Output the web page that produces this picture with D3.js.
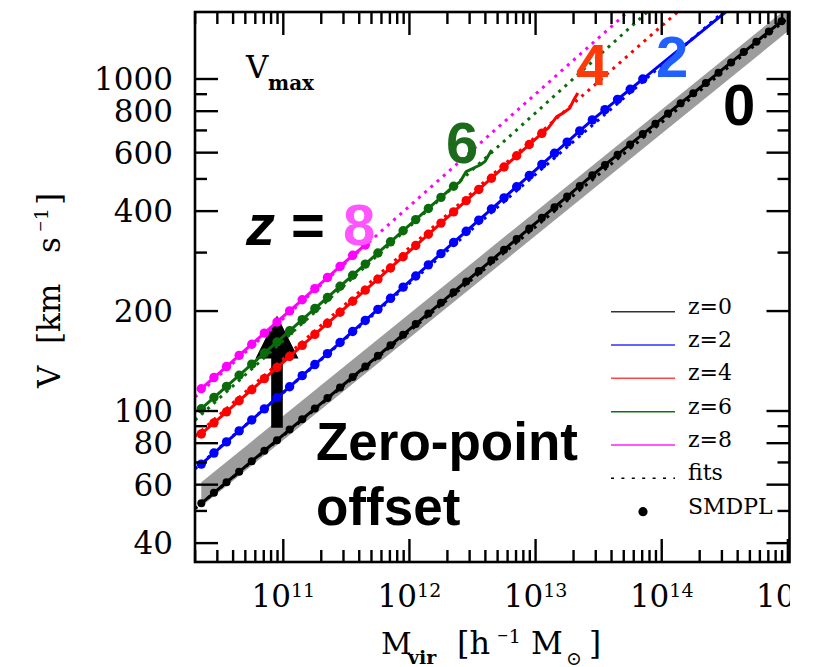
<!DOCTYPE html>
<html>
<head>
<meta charset="utf-8">
<script src="https://cdn.jsdelivr.net/npm/d3@7"></script>
<style>
  html, body { margin: 0; padding: 0; background: #fff; }
  svg { display: block; }
</style>
</head>
<body>
<div id="chart"></div>
<script>
// ---- data: Vmax vs halo mass in SMDPL, median relations at several redshifts ----
const logMassBins = [10.35,10.45,10.55,10.65,10.75,10.85,10.95,11.05,11.15,11.25,11.35,11.45,
  11.55,11.65,11.75,11.85,11.95,12.05,12.15,12.25,12.35,12.45,12.55,12.65,12.75,12.85,12.95,
  13.05,13.15,13.25,13.35,13.45,13.55,13.65,13.75,13.85,13.95,14.05,14.15,14.25,14.35,14.45,
  14.55,14.65,14.75,14.85,14.95];

const vmaxZ0 = [52.7,56.7,61.0,65.6,70.6,75.9,81.7,87.9,94.5,101.7,109.4,117.7,126.6,136.2,146.6,
  157.8,169.8,182.8,196.8,211.8,228.0,245.5,264.2,284.4,306.2,329.6,354.8,381.9,411.1,442.6,476.4,
  512.9,550.8,591.6,635.3,682.3,732.8,787.0,845.3,906.0,972.8,1044.7,1122.0,1205.0,1294.2,1390.0,1492.8];
const vmaxZ2 = [69.2,74.7,80.7,87.1,94.0,101.5,109.6,118.3,127.8,138.0,148.9,160.8,173.6,187.4,202.4,
  218.5,236.1,255.1,275.6,297.8,321.8,347.7,375.6,405.9,438.5,473.8,511.9,553.1,597.6,645.6,697.6,
  753.4,808.6,867.8,931.4,999.5];
const vmaxZ4 = [85.3,92.1,99.4,107.4,115.9,125.2,135.2,145.9,157.6,170.1,183.7,198.3,214.1,231.2,249.5,
  269.7,291.5,315.1,340.6,368.1,397.9,430.1,464.9,502.5,543.3,587.2,634.7,686.1];
const vmaxZ6 = [101.6,109.8,118.6,128.1,138.4,149.5,161.4,174.4,188.4,203.5,219.8,237.5,256.4,277.0,
  299.2,323.3,349.1,377.2,407.4,440.1,475.3];
const vmaxZ8 = [116.7,126.1,136.1,147.1,158.9,171.6,185.4,200.2,216.3,233.6,252.4,272.6,294.4,316.2];

// high-mass ends of the median curves (no SMDPL points there)
const tailZ2LogM = [13.95,14.05,14.15,14.25,14.35,14.45,14.55];
const tailZ2V    = [1072.7,1151.3,1235.6,1326.1,1423.2,1527.6,1639.5];
const tailZ4LogM = [13.10,13.166,13.22,13.27,13.30,13.335];
const tailZ4V    = [711.2,769.1,790.7,816.6,861.0,907.8];
const tailZ6LogM = [12.40,12.45,12.56,12.60,12.651];
const tailZ6V    = [489.8,526.0,550.8,564.9,611.0];

// power-law fits (end points)
const fitLogM = [10.3, 15.0];
const fitZ0 = [50.8, 1528];
const fitZ2 = [67.0, 2344];
const fitZ4 = [83.9, 3119];
const fitZ6 = [93.8, 3837];
const fitZ8 = [110.2, 4276];

// z=0 scatter band
const bandLogM = [10.35, 15.05];
const bandLow  = [51.6, 1442];
const bandHigh = [61.0, 1702];

// zero-point offset arrow
const arrowLogM = 10.95;
const arrowV = [89, 194];

const redshifts = ["0","2","4","6","8"];
const lineColors = ["#000000","#0000ff","#ff0000","#0b6b0b","#ff00ff"];
const legendColors = ["#333333","#3030ff","#ff4545","#107010","#ff20ff"];
const labelColors = ["#000000","#2060ff","#ff3a0a","#1c6b1c","#ff55ff"];
const legendLabels = ["z=0","z=2","z=4","z=6","z=8","fits","SMDPL"];

const yMajorTicks = [40,60,80,100,200,400,600,800,1000];
const yMinorTicks = [50,70,90,300,500,700,900];
const xMajorExp = [11,12,13,14,15];

// ---- layout ----
const W = 818, H = 667;
const L = 195, R = 789.5, T = 12, B = 562;

const x = d3.scaleLog().domain([Math.pow(10,10.3), Math.pow(10,15.013)]).range([L, R]);
const y = d3.scaleLog().domain([Math.pow(10,1.5452), Math.pow(10,3.2018)]).range([B, T]);

const svg = d3.select("#chart").append("svg")
  .attr("width", W).attr("height", H)
  .attr("viewBox", `0 0 ${W} ${H}`);

const defs = svg.append("defs");
defs.append("clipPath").attr("id","plotclip")
  .append("rect").attr("x", L).attr("y", T).attr("width", R-L).attr("height", B-T);
defs.append("clipPath").attr("id","labelclip")
  .append("rect").attr("x", 0).attr("y", 0).attr("width", 790).attr("height", H);

const serif = "'DejaVu Serif', 'Liberation Serif', serif";
const sans = "'Liberation Sans', Arial, Helvetica, sans-serif";

const plot = svg.append("g").attr("clip-path","url(#plotclip)");

// z=0 scatter band
const band = bandLogM.map((m,i) => ({m: Math.pow(10,m), lo: bandLow[i], hi: bandHigh[i]}));
plot.append("path")
  .datum(band)
  .attr("fill","#9c9c9c")
  .attr("d", d3.area().x(d => x(d.m)).y0(d => y(d.lo)).y1(d => y(d.hi)));

// zero-point arrow
{
  const ax = x(Math.pow(10, arrowLogM));
  const yb = y(arrowV[0]), yt = y(arrowV[1]);
  const headLen = 43, headHalf = 21.5, shaftHalf = 5.8;
  plot.append("path")
    .attr("fill","#000")
    .attr("d", `M${ax-shaftHalf},${yb} L${ax-shaftHalf},${yt+headLen} L${ax-headHalf},${yt+headLen}
                L${ax},${yt} L${ax+headHalf},${yt+headLen} L${ax+shaftHalf},${yt+headLen} L${ax+shaftHalf},${yb} Z`);
}

// redshift labels (drawn under the curves)
svg.append("text").attr("x",246).attr("y",245)
  .attr("font-family",sans).attr("font-weight","bold").attr("font-style","italic")
  .attr("font-size",58).attr("fill","#000").text("z");
svg.append("text").attr("x",291).attr("y",245)
  .attr("font-family",sans).attr("font-weight","bold")
  .attr("font-size",58).attr("fill","#000").text("=");
const zLabelPos = [[723,125],[656,77],[576,85],[446,163],[343,245]];
redshifts.forEach((z,i) => {
  svg.append("text").attr("x", zLabelPos[i][0]).attr("y", zLabelPos[i][1])
    .attr("font-family",sans).attr("font-weight","bold")
    .attr("font-size",58).attr("fill",labelColors[i]).text(z);
});

// fits (dotted)
const fitSets = [fitZ0, fitZ2, fitZ4, fitZ6, fitZ8];
const lineGen = d3.line().x(d => x(d[0])).y(d => y(d[1]));
fitSets.forEach((f,i) => {
  const pts = fitLogM.map((m,k) => [Math.pow(10,m), f[k]]);
  plot.append("path").datum(pts)
    .attr("fill","none").attr("stroke",lineColors[i])
    .attr("stroke-width",3).attr("stroke-dasharray","3,5.3")
    .attr("d", lineGen);
});

// median curves and SMDPL points
const vSets = [vmaxZ0, vmaxZ2, vmaxZ4, vmaxZ6, vmaxZ8];
const tails = [[[],[]],[tailZ2LogM,tailZ2V],[tailZ4LogM,tailZ4V],[tailZ6LogM,tailZ6V],[[],[]]];
vSets.forEach((vs,i) => {
  const pts = vs.map((v,k) => [Math.pow(10, logMassBins[k]), v]);
  const tail = tails[i][0].map((m,k) => [Math.pow(10,m), tails[i][1][k]]);
  plot.append("path").datum(pts.concat(tail))
    .attr("fill","none").attr("stroke",lineColors[i])
    .attr("stroke-width", 3).attr("stroke-linejoin","round")
    .attr("d", lineGen);
  plot.selectAll(null).data(pts).enter().append("circle")
    .attr("cx", d => x(d[0])).attr("cy", d => y(d[1]))
    .attr("r", i === 0 ? 4.0 : 4.7)
    .attr("fill", lineColors[i]);
});

// frame
svg.append("rect").attr("x",L).attr("y",T).attr("width",R-L).attr("height",B-T)
  .attr("fill","none").attr("stroke","#000").attr("stroke-width",2.6);

// ticks
const tickG = svg.append("g").attr("stroke","#000").attr("stroke-width",2.4);
const majLen = 23, minLen = 12;
const xMinor = [];
for (let e = 10; e <= 15; e++) for (let k = 2; k <= 9; k++) {
  const v = k * Math.pow(10, e);
  if (v > x.domain()[0] * 1.001 && v < x.domain()[1]) xMinor.push(v);
}
const xMajorVals = xMajorExp.map(e => Math.pow(10,e));
[[xMajorVals, majLen],[xMinor, minLen]].forEach(([vals,len]) => {
  vals.forEach(v => {
    const px = x(v);
    if (px < L || px > R + 1) return;
    tickG.append("line").attr("x1",px).attr("x2",px).attr("y1",B).attr("y2",B-len);
    tickG.append("line").attr("x1",px).attr("x2",px).attr("y1",T).attr("y2",T+len);
  });
});
[[yMajorTicks, majLen],[yMinorTicks, minLen]].forEach(([vals,len]) => {
  vals.forEach(v => {
    const py = y(v);
    tickG.append("line").attr("x1",L).attr("x2",L+len).attr("y1",py).attr("y2",py);
    tickG.append("line").attr("x1",R).attr("x2",R-len).attr("y1",py).attr("y2",py);
  });
});

// y tick labels
svg.append("g").selectAll("text").data(yMajorTicks).enter().append("text")
  .attr("x", 173).attr("y", d => y(d) + 11)
  .attr("text-anchor","end").attr("font-family",serif).attr("font-size",31)
  .attr("fill","#000").text(d => d);

// x tick labels 10^n
const xl = svg.append("g").attr("clip-path","url(#labelclip)");
xMajorExp.forEach(e => {
  const t = xl.append("text")
    .attr("x", x(Math.pow(10,e))).attr("y", 607)
    .attr("text-anchor","middle").attr("font-family",serif).attr("fill","#000");
  t.append("tspan").attr("font-size",31).text("10");
  t.append("tspan").attr("font-size",19).attr("dy",-10).text(String(e));
});

// axis titles
{
  const t = svg.append("text").attr("y",654).attr("font-family",serif).attr("fill","#000");
  t.append("tspan").attr("x",381).attr("font-size",30).text("M");
  t.append("tspan").attr("x",408).attr("y",664).attr("font-size",19).attr("font-weight","bold").text("vir");
  t.append("tspan").attr("x",457).attr("y",654).attr("font-size",32).text("[h");
  t.append("tspan").attr("x",497).attr("y",640).attr("font-size",14).text("\u2212");
  t.append("tspan").attr("y",643).attr("font-size",19).text("1");
  t.append("tspan").attr("x",531).attr("y",654).attr("font-size",31).text("M");
  t.append("tspan").attr("x",566).attr("y",665).attr("font-size",19).text("\u2299");
  t.append("tspan").attr("x",589).attr("y",654).attr("font-size",31).text("]");
}
{
  const g = svg.append("g").attr("transform","translate(60,388) rotate(-90)");
  const t = g.append("text").attr("y",0).attr("font-family",serif).attr("fill","#000");
  t.append("tspan").attr("x",0).attr("font-size",31).text("V");
  t.append("tspan").attr("x",44).attr("font-size",31).text("[km");
  t.append("tspan").attr("x",135).attr("font-size",31).text("s");
  t.append("tspan").attr("x",156).attr("y",-15).attr("font-size",14).text("\u2212");
  t.append("tspan").attr("y",-12).attr("font-size",19).text("1");
  t.append("tspan").attr("x",183).attr("y",0).attr("font-size",31).text("]");
}

// V_max annotation
{
  const t = svg.append("text").attr("x",246).attr("y",78).attr("font-family",serif).attr("fill","#000");
  t.append("tspan").attr("font-size",31).text("V");
  t.append("tspan").attr("x",268).attr("y",90).attr("font-size",20).attr("font-weight","bold").text("max");
}

// zero-point text
svg.append("text").attr("x",316).attr("y",460)
  .attr("font-family",sans).attr("font-weight","bold").attr("font-size",53)
  .attr("fill","#000").text("Zero-point");
svg.append("text").attr("x",316).attr("y",525)
  .attr("font-family",sans).attr("font-weight","bold").attr("font-size",53)
  .attr("fill","#000").text("offset");

// legend
const legY = [311.7, 345, 378.3, 411.7, 445, 478.3, 511.7];
const lg = svg.append("g");
legendLabels.forEach((lab,i) => {
  const yy = legY[i];
  if (i < 5) {
    lg.append("line").attr("x1",611).attr("x2",675).attr("y1",yy).attr("y2",yy)
      .attr("stroke",legendColors[i]).attr("stroke-width",1.5);
  } else if (i === 5) {
    lg.append("line").attr("x1",611).attr("x2",675).attr("y1",yy).attr("y2",yy)
      .attr("stroke","#000").attr("stroke-width",1.5).attr("stroke-dasharray","3,7.4");
  } else {
    lg.append("circle").attr("cx",643).attr("cy",yy).attr("r",4.6).attr("fill","#000");
  }
  lg.append("text").attr("x",688).attr("y",yy+2)
    .attr("font-family",serif).attr("font-size",22).attr("fill","#000").text(lab);
});
</script>
</body>
</html>
